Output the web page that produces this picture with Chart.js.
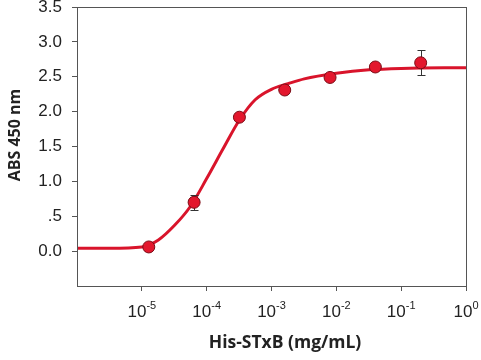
<!DOCTYPE html>
<html>
<head>
<meta charset="utf-8">
<script src="https://cdn.jsdelivr.net/npm/chart.js@4"></script>
<style>
  html, body { margin: 0; padding: 0; background: #fff; }
  #wrap { width: 481px; height: 360px; }
</style>
</head>
<body>
<div id="wrap"><canvas id="c" width="481" height="360"></canvas></div>
<script>
// measured points (mg/mL vs ABS 450)
const conc = [0.0000128, 0.000064, 0.00032, 0.0016, 0.008, 0.04, 0.2];
const absVals = [0.06, 0.70, 1.92, 2.31, 2.49, 2.64, 2.70];
const absErr = [0, 0.11, 0.03, 0.02, 0.04, 0.02, 0.18];

// fitted curve
const curveX = [1e-6, 3.2e-6, 1e-5, 1.8e-5, 3.2e-5, 5.6e-5, 1e-4, 1.8e-4, 3.2e-4, 5.6e-4, 1e-3, 1.8e-3, 3.2e-3, 1e-2, 3.2e-2, 1e-1, 1];
const curveY = [0.04, 0.04, 0.06, 0.16, 0.37, 0.64, 1.04, 1.47, 1.88, 2.17, 2.32, 2.40, 2.47, 2.55, 2.60, 2.62, 2.63];

const xTicks = [1e-6, 1e-5, 1e-4, 1e-3, 1e-2, 1e-1, 1];
const yTicks = [0, 0.5, 1, 1.5, 2, 2.5, 3, 3.5];
const xTitle = 'His-STxB (mg/mL)';
const yTitle = 'ABS 450 nm';

const RED = '#d9142b';
const AXIS = '#555';
const TXT = '#222';

// box + tick labels with real superscripts + axis titles
const decoPlugin = {
  id: 'deco',
  afterDraw(chart) {
    const { ctx, chartArea: a, scales } = chart;
    ctx.save();
    ctx.strokeStyle = AXIS;
    ctx.lineWidth = 1;
    ctx.strokeRect(Math.round(a.left) + 0.5, Math.round(a.top) + 0.5, Math.round(a.right - a.left), Math.round(a.bottom - a.top));

    ctx.fillStyle = TXT;
    ctx.textBaseline = 'alphabetic';
    ctx.textAlign = 'left';
    xTicks.forEach(v => {
      if (v === 1e-6) return;
      const exp = String(Math.round(Math.log10(v)));
      ctx.font = '17px "Liberation Sans"';
      const wb = ctx.measureText('10').width;
      ctx.font = '11px "Liberation Sans"';
      const we = ctx.measureText(exp).width;
      const x0 = scales.x.getPixelForValue(v) - (wb + we) / 2;
      ctx.font = '17px "Liberation Sans"';
      ctx.fillText('10', x0, a.bottom + 31);
      ctx.font = '11px "Liberation Sans"';
      ctx.fillText(exp, x0 + wb, a.bottom + 23);
    });

    ctx.font = 'bold 17.5px "Open Sans"';
    ctx.textAlign = 'center';
    ctx.textBaseline = 'middle';
    ctx.fillText(xTitle, 285, 343);
    ctx.translate(15, 135);
    ctx.rotate(-Math.PI / 2);
    ctx.font = 'bold 16px "Open Sans"';
    ctx.fillText(yTitle, 0, 0);
    ctx.restore();
  }
};

const errPlugin = {
  id: 'errbars',
  afterDatasetDraw(chart, args) {
    if (args.index !== 0) return;
    const { ctx, scales } = chart;
    ctx.save();
    ctx.strokeStyle = '#333';
    ctx.lineWidth = 1;
    conc.forEach((c, i) => {
      if (!absErr[i]) return;
      const x = Math.round(scales.x.getPixelForValue(c)) + 0.5;
      const y1 = Math.round(scales.y.getPixelForValue(absVals[i] + absErr[i])) + 0.5;
      const y2 = Math.round(scales.y.getPixelForValue(absVals[i] - absErr[i])) + 0.5;
      ctx.beginPath();
      ctx.moveTo(x, y1); ctx.lineTo(x, y2);
      ctx.moveTo(x - 4, y1); ctx.lineTo(x + 4, y1);
      ctx.moveTo(x - 4, y2); ctx.lineTo(x + 4, y2);
      ctx.stroke();
    });
    ctx.restore();
  }
};

new Chart(document.getElementById('c'), {
  type: 'scatter',
  data: {
    datasets: [
      {
        label: 'fit',
        data: curveX.map((x, i) => ({ x, y: curveY[i] })),
        showLine: true,
        borderColor: RED,
        borderWidth: 3,
        pointRadius: 0,
        cubicInterpolationMode: 'monotone',
        order: 2
      },
      {
        label: 'His-STxB',
        data: conc.map((x, i) => ({ x, y: absVals[i] })),
        backgroundColor: '#e3172d',
        borderColor: '#7a0c16',
        borderWidth: 1,
        pointRadius: 6,
        order: 1
      }
    ]
  },
  options: {
    responsive: false,
    animation: false,
    layout: { padding: { left: 2, top: 6, right: 15, bottom: 0 } },
    plugins: { legend: { display: false }, tooltip: { enabled: false } },
    scales: {
      x: {
        type: 'logarithmic',
        min: 1e-6,
        max: 1,
        afterBuildTicks: s => { s.ticks = xTicks.map(v => ({ value: v })); },
        afterFit: s => { s.height = 74; s.paddingLeft = 0; s.paddingRight = 0; },
        border: { display: true, color: AXIS },
        grid: {
          drawOnChartArea: false,
          tickLength: 5,
          tickColor: ctx => ctx.tick && ctx.tick.value === 1e-6 ? 'rgba(0,0,0,0)' : AXIS
        },
        ticks: { display: false }
      },
      y: {
        min: -0.5,
        max: 3.5,
        afterBuildTicks: s => { s.ticks = [-0.5].concat(yTicks).map(v => ({ value: v })); },
        afterFit: s => { s.width = 75; s.paddingTop = 0; s.paddingBottom = 0; },
        border: { display: true, color: AXIS },
        grid: {
          drawOnChartArea: false,
          tickLength: 5,
          tickColor: ctx => ctx.tick && ctx.tick.value < 0 ? 'rgba(0,0,0,0)' : AXIS
        },
        ticks: {
          color: TXT,
          font: { family: 'Liberation Sans', size: 17 },
          padding: 10,
          callback: v => v < 0 ? '' : (v === 0.5 ? '.5' : v.toFixed(1))
        }
      }
    }
  },
  plugins: [errPlugin, decoPlugin]
});
</script>
</body>
</html>
